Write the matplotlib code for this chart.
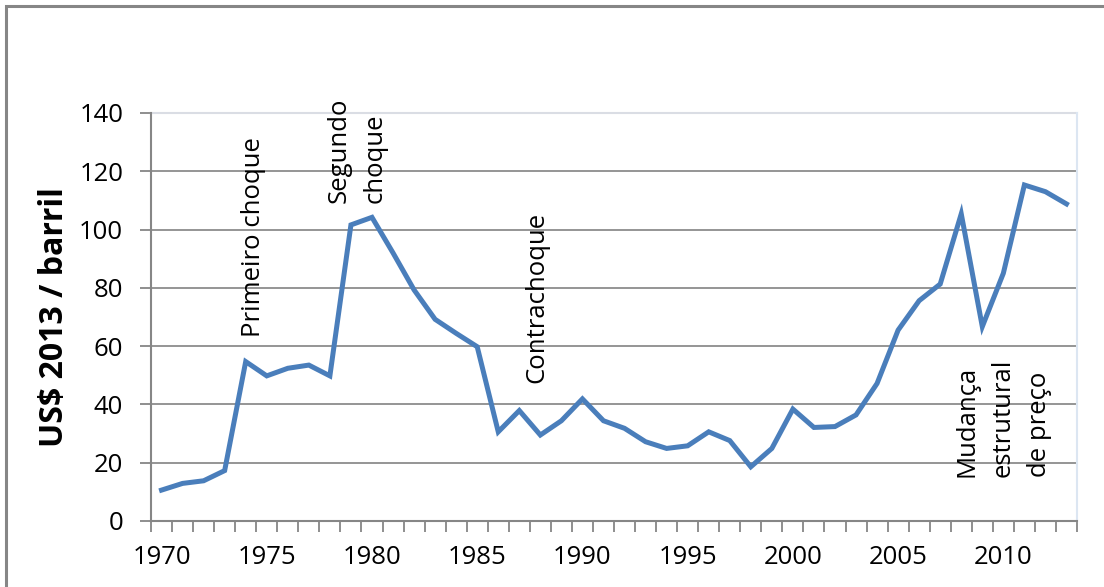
import numpy as np
import matplotlib
matplotlib.use("Agg")
import matplotlib.pyplot as plt
from matplotlib.patches import Rectangle

plt.rcParams['font.family'] = ['Open Sans', 'DejaVu Sans']

# Preço real do petróleo (US$ de 2013 por barril)
anos = list(range(1970, 2014))
precos = [10.6, 12.9, 13.8, 17.3, 54.7, 49.8, 52.4, 53.5, 49.8, 101.6,
          104.2, 92.0, 79.3, 69.2, 64.4, 59.8, 30.6, 37.9, 29.5, 34.4,
          41.9, 34.4, 31.8, 27.2, 24.9, 25.8, 30.6, 27.6, 18.6, 24.9,
          38.4, 32.1, 32.4, 36.4, 47.2, 65.5, 75.6, 81.3, 105.4, 66.7,
          85.0, 115.3, 113.0, 108.8]
rotulos_x = [str(a) if a % 5 == 0 else '' for a in anos]

# anotações: (texto, ano, base em US$)
eventos = [
    ("Primeiro choque", 1974.35, 63.1),
    ("Segundo\nchoque", 1979.3, 109.1),
    ("Contrachoque", 1987.84, 47.4),
    ("Mudança\nestrutural\nde preço", 2010.0, 15.1),
]

W, H = 1104, 587
fig = plt.figure(figsize=(W / 100, H / 100), dpi=100)
fig.patch.set_facecolor('white')

# moldura da área do gráfico
fig.add_artist(Rectangle((6 / W, -0.1), 1.2, 1 - 6 / H + 0.1,
                         transform=fig.transFigure, fill=False,
                         edgecolor='#868686', linewidth=2.2))

ax = fig.add_axes([151 / W, 1 - 521 / H, (1077 - 151) / W, (521 - 113) / H])

x = np.arange(len(anos))
ax.plot(x, precos, color='#4a7ebb', linewidth=3.6, solid_joinstyle='miter',
        zorder=3)

ax.set_xlim(-0.5, len(anos) - 0.5)
ax.set_ylim(0, 140)
ax.set_yticks(range(0, 141, 20))
ax.yaxis.grid(True, color='#8c8c8c', linewidth=1.3)
ax.set_axisbelow(True)

ax.set_xticks(x)
ax.set_xticklabels(rotulos_x)
ax.set_xticks(np.arange(-0.5, len(anos)), minor=True)
ax.tick_params(axis='x', which='major', length=0, pad=17, labelsize=18.5)
ax.tick_params(axis='x', which='minor', length=8, width=1.3,
               color='#868686')
ax.tick_params(axis='y', length=8, width=1.3, color='#868686', pad=12,
               labelsize=18.5)

for lado in ['left', 'bottom']:
    ax.spines[lado].set_color('#868686')
    ax.spines[lado].set_linewidth(1.5)
ax.spines['top'].set_color('#dadde4')
ax.spines['top'].set_linewidth(1.5)
ax.spines['right'].set_color('#dce6f2')
ax.spines['right'].set_linewidth(1.5)
ax.spines['top'].set_zorder(1)

ax.text(-0.1037, 0.5, 'US$ 2013 / barril', transform=ax.transAxes,
        rotation=90, ha='center', va='center', fontsize=23,
        fontweight='bold')

for texto, ano, base in eventos:
    ax.text(ano - 1970, base, texto, rotation=90, ha='center', va='bottom',
            multialignment='left', fontsize=18.5, linespacing=1.6,
            zorder=4)

fig.savefig('out.png', dpi=100)
